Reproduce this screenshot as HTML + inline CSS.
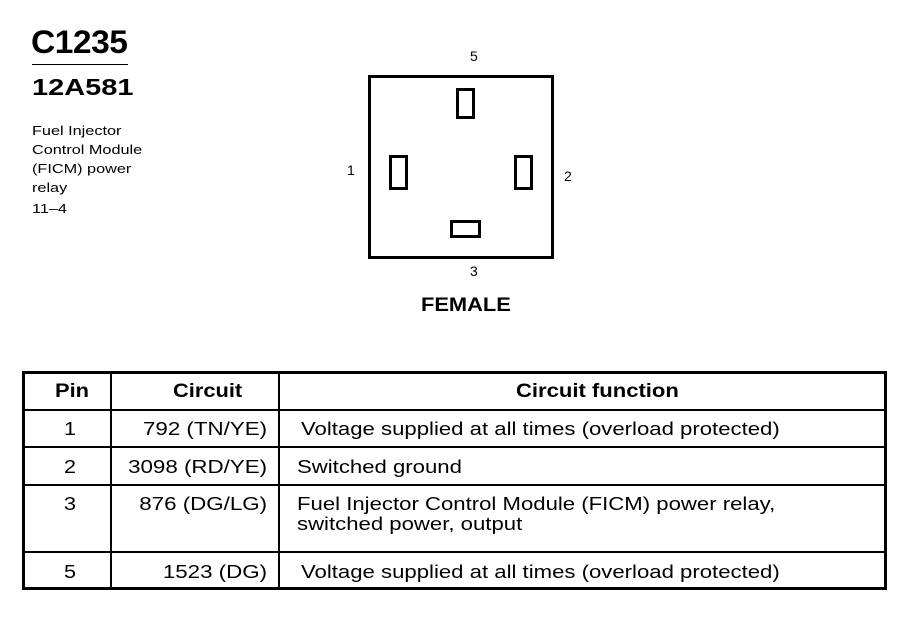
<!DOCTYPE html>
<html><head><meta charset="utf-8"><style>
body{margin:0;width:912px;height:624px;background:#fff;position:relative;font-family:"Liberation Sans",Arial,sans-serif;color:#000;overflow:hidden}
.a{position:absolute;white-space:nowrap;transform-origin:left top}
.r{transform-origin:right top}
.b{position:absolute;border:3px solid #000;box-sizing:border-box}
.l{position:absolute;background:#000}
</style></head><body>
<div class="a" style="left:31px;top:24px;font-size:32px;font-weight:bold;letter-spacing:-0.5px;transform:scaleX(1.05)">C1235</div>
<div class="l" style="left:32px;top:64px;width:96px;height:1px"></div>
<div class="a" style="left:32px;top:74px;font-size:23px;font-weight:bold;transform:scaleX(1.26)">12A581</div>
<div class="a" style="left:32px;top:121px;font-size:13px;line-height:19px;transform:scaleX(1.25)">Fuel Injector<br>Control Module<br>(FICM) power<br>relay</div>
<div class="a" style="left:32px;top:201px;font-size:13px;transform:scaleX(1.25)">11–4</div>

<div class="b" style="left:368px;top:75px;width:186px;height:184px"></div>
<div class="b" style="left:456px;top:88px;width:19px;height:31px"></div>
<div class="b" style="left:389px;top:155px;width:19px;height:35px"></div>
<div class="b" style="left:514px;top:155px;width:19px;height:35px"></div>
<div class="b" style="left:450px;top:220px;width:31px;height:18px"></div>
<div class="a" style="left:470px;top:48px;font-size:14px">5</div>
<div class="a" style="left:347px;top:162px;font-size:14px">1</div>
<div class="a" style="left:564px;top:168px;font-size:14px">2</div>
<div class="a" style="left:470px;top:263px;font-size:14px">3</div>
<div class="a" style="left:421px;top:295px;font-size:19px;font-weight:bold;transform:scaleX(1.15)">FEMALE</div>

<div class="b" style="left:22px;top:371px;width:865px;height:219px"></div>
<div class="l" style="left:110px;top:372px;width:2px;height:217px"></div>
<div class="l" style="left:278px;top:372px;width:2px;height:217px"></div>
<div class="l" style="left:23px;top:409px;width:863px;height:2px"></div>
<div class="l" style="left:23px;top:446px;width:863px;height:2px"></div>
<div class="l" style="left:23px;top:484px;width:863px;height:2px"></div>
<div class="l" style="left:23px;top:551px;width:863px;height:2px"></div>
<div class="a" style="left:55px;top:381px;font-size:19px;font-weight:bold;transform:scaleX(1.15)">Pin</div>
<div class="a" style="left:173px;top:381px;font-size:19px;font-weight:bold;transform:scaleX(1.15)">Circuit</div>
<div class="a" style="left:516px;top:381px;font-size:19px;font-weight:bold;transform:scaleX(1.16)">Circuit function</div>
<div class="a" style="left:64px;top:419px;font-size:18px;transform:scaleX(1.2)">1</div>
<div class="a" style="left:64px;top:457px;font-size:18px;transform:scaleX(1.2)">2</div>
<div class="a" style="left:64px;top:494px;font-size:18px;transform:scaleX(1.2)">3</div>
<div class="a" style="left:64px;top:562px;font-size:18px;transform:scaleX(1.2)">5</div>
<div class="a r" style="right:645px;top:419px;font-size:18px;transform:scaleX(1.24)">792 (TN/YE)</div>
<div class="a r" style="right:645px;top:457px;font-size:18px;transform:scaleX(1.24)">3098 (RD/YE)</div>
<div class="a r" style="right:645px;top:494px;font-size:18px;transform:scaleX(1.24)">876 (DG/LG)</div>
<div class="a r" style="right:645px;top:562px;font-size:18px;transform:scaleX(1.24)">1523 (DG)</div>
<div class="a" style="left:301px;top:419px;font-size:18px;transform:scaleX(1.23)">Voltage supplied at all times (overload protected)</div>
<div class="a" style="left:297px;top:457px;font-size:18px;transform:scaleX(1.23)">Switched ground</div>
<div class="a" style="left:297px;top:494px;font-size:18px;line-height:20px;transform:scaleX(1.23)">Fuel Injector Control Module (FICM) power relay,<br>switched power, output</div>
<div class="a" style="left:301px;top:562px;font-size:18px;transform:scaleX(1.23)">Voltage supplied at all times (overload protected)</div>
</body></html>
